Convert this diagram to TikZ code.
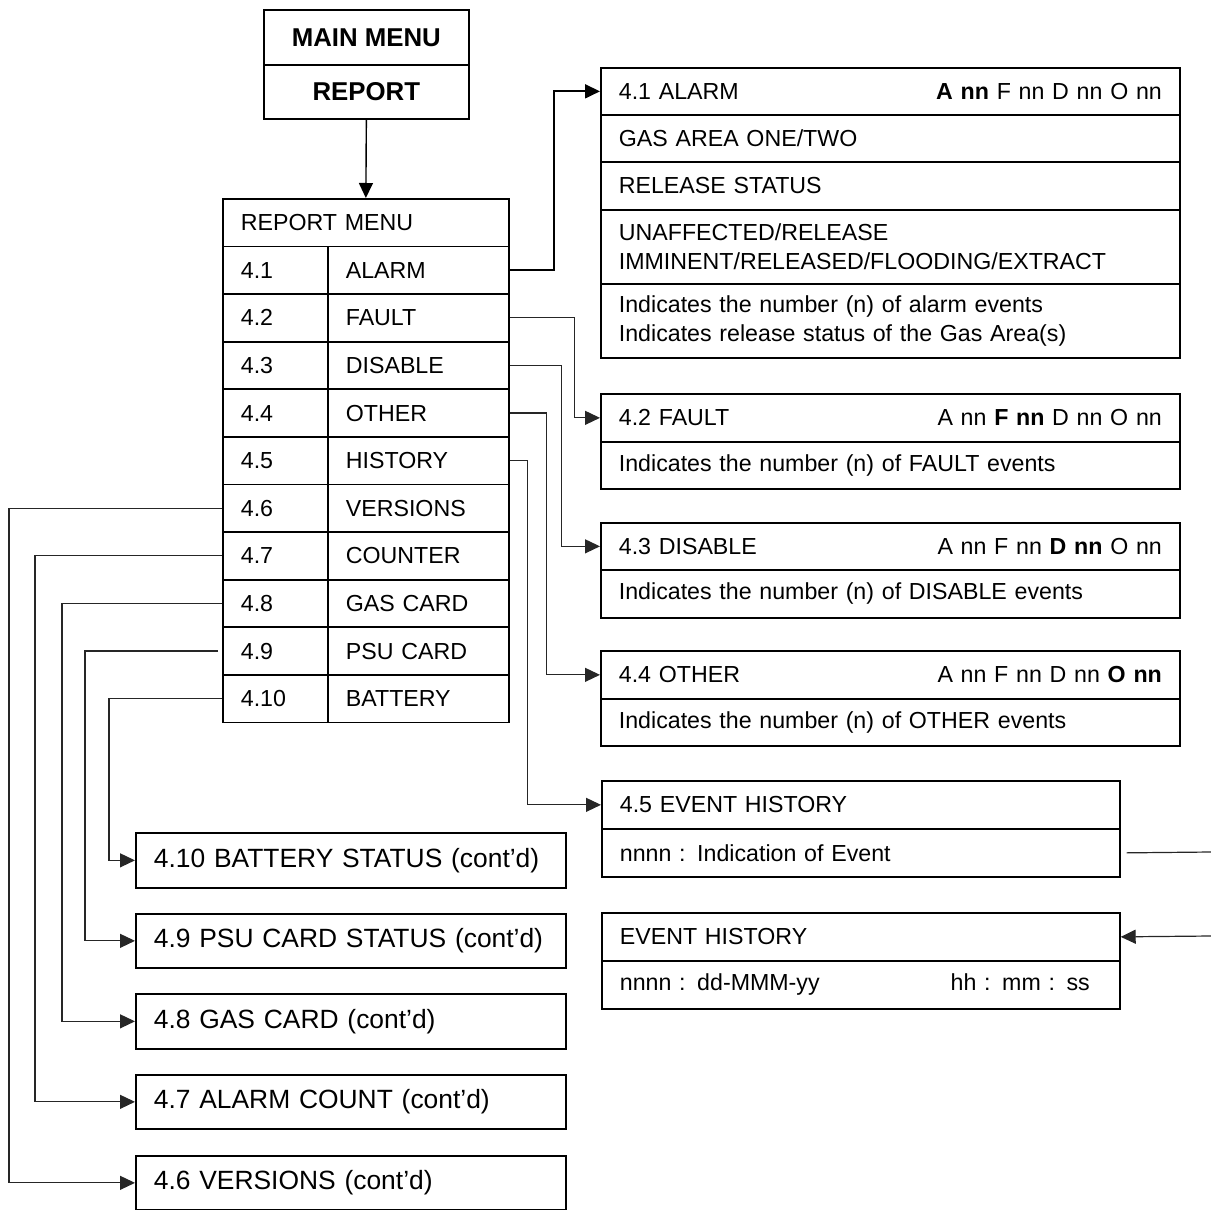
\documentclass[tikz,border=0pt]{standalone}
\usepackage{fontspec}
\setmainfont{Liberation Sans}
\usetikzlibrary{arrows.meta}
\newcommand{\fsn}{\fontsize{23.2}{29}\selectfont}
\newcommand{\fsb}{\fontsize{25.8}{30}\selectfont}
\newcommand{\fsc}{\fontsize{26.4}{30}\selectfont}
\begin{document}
\begin{tikzpicture}[x=1pt,y=-1pt,
  cell/.style={draw, line width=1.7pt, anchor=north west, inner xsep=18pt, inner ysep=0pt, align=left, font=\fsn},
  ttl/.style={draw, line width=1.7pt, anchor=north west, inner sep=0pt, align=center, font=\fsb\bfseries, minimum width=205pt},
  wire/.style={line width=1.2pt, draw=black!85},
  thick wire/.style={line width=1.8pt},
  tip/.style={-{Triangle[length=15pt,width=14pt]}}
]
\useasboundingbox (0,0) rectangle (1211,1210);
% main menu
\node[ttl, minimum height=55pt] (mm) at (263,9) {MAIN MENU};
\node[ttl, minimum height=54pt] (rep) at (263,64) {REPORT};
% report menu
\node[cell, text width=250pt, minimum height=47.6pt] (rmh) at (222,198) {REPORT MENU};
\foreach \i/\n/\t [count=\k from 0] in {1/4.1/ALARM,2/4.2/FAULT,3/4.3/DISABLE,4/4.4/OTHER,5/4.5/HISTORY,6/4.6/VERSIONS,7/4.7/COUNTER,8/4.8/GAS CARD,9/4.9/PSU CARD,10/4.10/BATTERY}{
  \node[cell, text width=69pt, minimum height=47.6pt] (r\i a) at (222,{245.6+47.6*\k}) {\n};
  \node[cell, text width=145pt, minimum height=47.6pt] (r\i b) at (327,{245.6+47.6*\k}) {\t};
}
\draw[wire, line width=1.4pt, draw=black, tip] (rep.south) -- (rmh.north);
% alarm box
\node[cell, text width=543pt, minimum height=47pt] (al1) at (600,67) {4.1 ALARM\hfill\textbf{A nn} F nn D nn O nn};
\node[cell, text width=543pt, minimum height=47pt] (al2) at (600,114) {GAS AREA ONE/TWO};
\node[cell, text width=543pt, minimum height=48pt] (al3) at (600,161) {RELEASE STATUS};
\node[cell, text width=543pt, minimum height=74pt] (al4) at (600,209) {UNAFFECTED/RELEASE\\IMMINENT/RELEASED/FLOODING/EXTRACT};
\node[cell, text width=543pt, minimum height=74pt] (al5) at (600,283) {Indicates the number (n) of alarm events\\Indicates release status of the Gas Area(s)};
% fault
\node[cell, text width=543pt, minimum height=48pt] (fa1) at (600,393) {4.2 FAULT\hfill A nn \textbf{F nn} D nn O nn};
\node[cell, text width=543pt, minimum height=47pt] (fa2) at (600,441) {Indicates the number (n) of FAULT events};
% disable
\node[cell, text width=543pt, minimum height=47pt] (di1) at (600,522) {4.3 DISABLE\hfill A nn F nn \textbf{D nn} O nn};
\node[cell, text width=543pt, minimum height=48pt] (di2) at (600,569) {Indicates the number (n) of DISABLE events};
% other
\node[cell, text width=543pt, minimum height=48pt] (ot1) at (600,650) {4.4 OTHER\hfill A nn F nn D nn \textbf{O nn}};
\node[cell, text width=543pt, minimum height=47pt] (ot2) at (600,698) {Indicates the number (n) of OTHER events};
% event history
\node[cell, text width=482pt, minimum height=48pt] (ev1) at (601,780) {4.5 EVENT HISTORY};
\node[cell, text width=482pt, minimum height=48pt] (ev2) at (601,828) {nnnn : Indication of Event};
\node[cell, text width=482pt, minimum height=48pt] (eh1) at (601,912) {EVENT HISTORY};
\node[cell, text width=482pt, minimum height=48pt] (eh2) at (601,960) {nnnn : dd-MMM-yy\hfill hh : mm : ss\kern12pt\null};
% cont'd boxes
\node[cell, text width=394pt, minimum height=55pt, font=\fsc] (c10) at (135,832) {4.10 BATTERY STATUS (cont'd)};
\node[cell, text width=394pt, minimum height=54pt, font=\fsc] (c9) at (135,913) {4.9 PSU CARD STATUS (cont'd)};
\node[cell, text width=394pt, minimum height=55pt, font=\fsc] (c8) at (135,993) {4.8 GAS CARD (cont'd)};
\node[cell, text width=394pt, minimum height=54pt, font=\fsc] (c7) at (135,1074) {4.7 ALARM COUNT (cont'd)};
\node[cell, text width=394pt, minimum height=54pt, font=\fsc] (c6) at (135,1155) {4.6 VERSIONS (cont'd)};
% right connectors
\draw[thick wire, tip] (r1b.east) -- ++(44,0) |- (al1.west);
\draw[wire, tip] (r2b.east) -- ++(65,0) |- (fa1.west);
\draw[wire, tip] (r3b.east) -- ++(52,0) |- (di1.west);
\draw[wire, tip] (r4b.east) -- ++(37,0) |- (ot1.west);
\draw[wire, tip] (r5b.east) -- ++(18,0) |- (ev1.west);
% left connectors
\draw[wire, tip] (r6a.west) -- ++(-213,0) |- (c6.west);
\draw[wire, tip] (r7a.west) -- ++(-187,0) |- (c7.west);
\draw[wire, tip] (r8a.west) -- ++(-160,0) |- (c8.west);
\draw[wire, tip] ([xshift=-4pt]r9a.west) -- ++(-133,0) |- (c9.west);
\draw[wire, tip] (r10a.west) -- ++(-113,0) |- (c10.west);
% event history links
\coordinate (rt1) at (1211,852);
\coordinate (rt2) at (1211,936);
\draw[wire] ([xshift=6pt]ev2.east) -- (rt1);
\draw[wire, tip] (rt2) -- (eh1.east);
\end{tikzpicture}
\end{document}
